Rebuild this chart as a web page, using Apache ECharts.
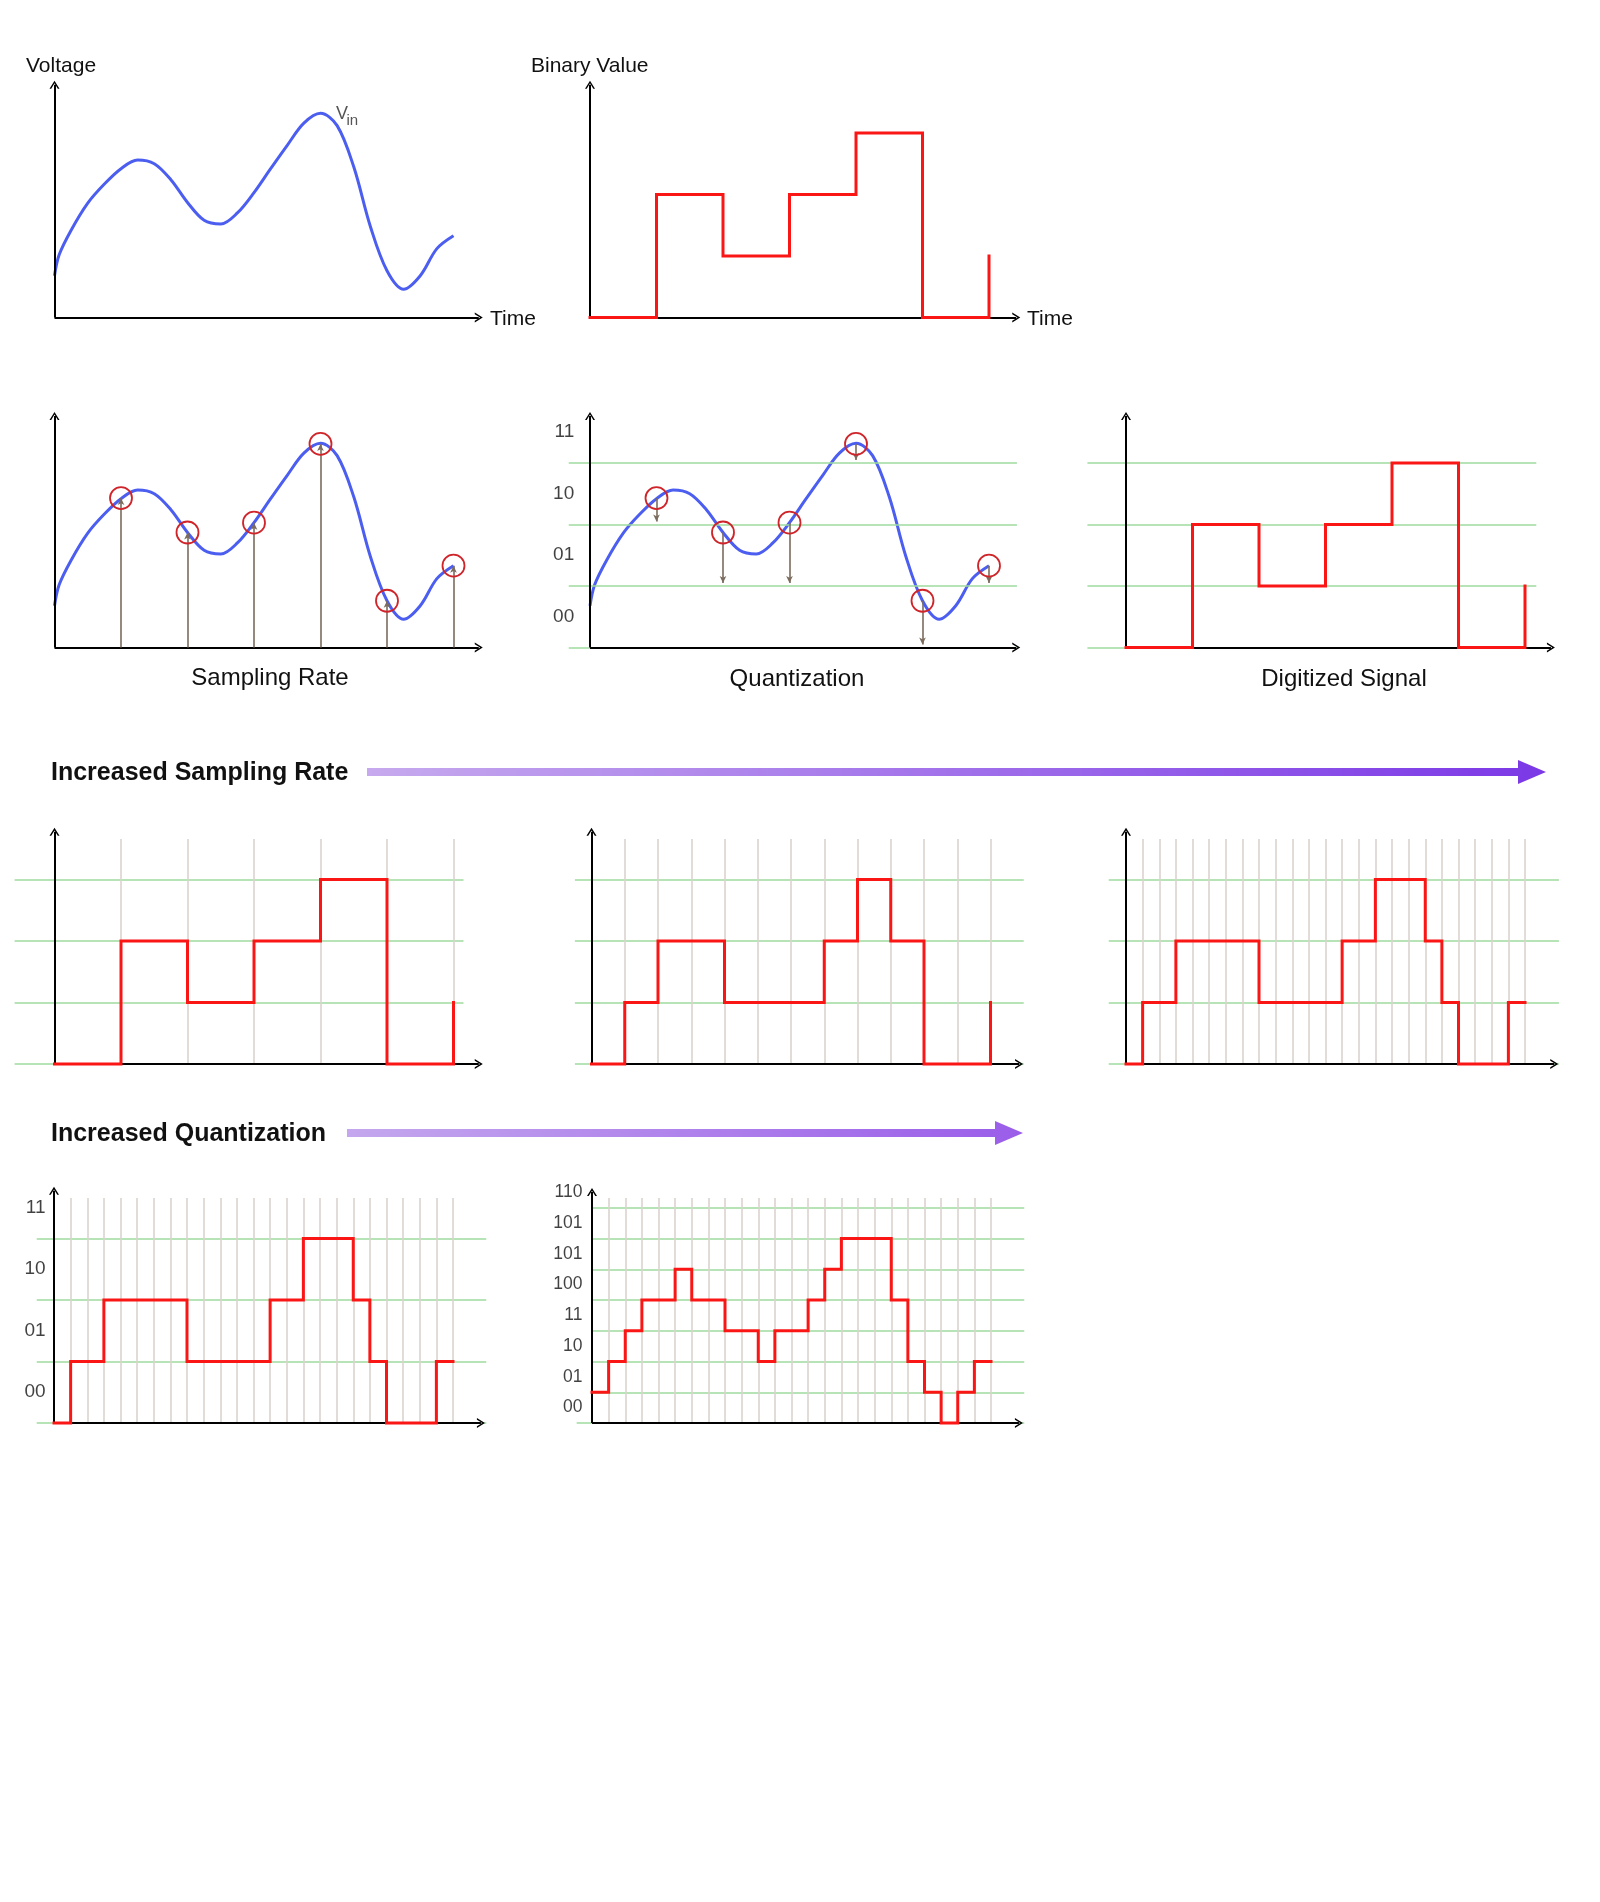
<!DOCTYPE html>
<html><head><meta charset="utf-8">
<script src="https://cdn.jsdelivr.net/npm/echarts@6/dist/echarts.min.js"></script>
<style>html,body{margin:0;padding:0;background:#fff}#c{width:1600px;height:1902px}</style>
</head><body><div id="c"></div>
<script>
// ---------------- data ----------------
// analog input signal V_in (time in sample periods, voltage in quantization steps)
const curveT = [0, 0.07, 0.25, 0.5, 0.75, 1.0, 1.25, 1.5, 1.75, 2.0, 2.25, 2.5, 2.75, 3.0, 3.25, 3.5, 3.75, 4.0, 4.25, 4.5, 4.75, 5.0, 5.25, 5.5, 5.75, 6.0];
const curveV = [0.68, 1.02, 1.42, 1.86, 2.17, 2.42, 2.56, 2.50, 2.24, 1.87, 1.58, 1.52, 1.70, 2.03, 2.42, 2.80, 3.16, 3.32, 3.12, 2.45, 1.48, 0.76, 0.46, 0.68, 1.12, 1.33];
// samples
const sampleT = [1, 2, 3, 4, 5, 6];
const sampleV = [2.43, 1.87, 2.03, 3.31, 0.76, 1.33];
const quantLevel = [2, 1, 1, 3, 0, 1];
// digitized signal, one value per sample period (t = 0..6)
const digitLevel = [0, 2, 1, 2, 3, 0, 1];
// increased sampling rate: 2x (t = 0..6 step 0.5), 4x (t = 0..6 step 0.25)
const rate2xLevel = [0, 1, 2, 2, 1, 1, 1, 2, 3, 2, 0, 0, 1];
const rate4xLevel = [0, 1, 1, 2, 2, 2, 2, 2, 1, 1, 1, 1, 1, 2, 2, 3, 3, 3, 2, 1, 0, 0, 0, 1, 1];
// increased quantization: 2-bit and 3-bit at 4x rate
const quant2bitLevel = [0, 1, 1, 2, 2, 2, 2, 2, 1, 1, 1, 1, 1, 2, 2, 3, 3, 3, 2, 1, 0, 0, 0, 1, 1];
const quant3bitLevel = [1, 2, 3, 4, 4, 5, 4, 4, 3, 3, 2, 3, 3, 4, 5, 6, 6, 6, 4, 2, 1, 0, 1, 2, 2];
// tick labels
const labels2bit = ['00', '01', '10', '11'];
const labels3bit = ['00', '01', '10', '11', '100', '101', '101', '110'];
const levels2bit = [0, 1, 2, 3];
const levels3bit = [0, 1, 2, 3, 4, 5, 6, 7];

// ---------------- styles / layout ----------------
const BLUE = '#4b5ef0', RED = '#fb1616', CIRC = '#cf2429', GREEN = '#9edb9e', GREY = '#dad4ce', STEM = '#7b6c5e';
const FONT = '"Liberation Sans", Arial, Helvetica, sans-serif';
const CHEV = 'path://M0,10 L5,0 L10,10 L8.3,10 L5,3.3 L1.7,10 Z';
const UX = 66.5, UY = 61.5;

const P = {
  A: {ox: 54.5, oy: 317.5, uy: UY, xEnd: 6.44, yEnd: 3.85},
  B: {ox: 590, oy: 317.5, uy: UY, xEnd: 6.47, yEnd: 3.85},
  C: {ox: 54.5, oy: 647.5, uy: UY, xEnd: 6.44, yEnd: 3.83},
  D: {ox: 590, oy: 647.5, uy: UY, xEnd: 6.47, yEnd: 3.83, gx0: -0.32, gx1: 6.42, labX: -0.23},
  E: {ox: 1126, oy: 647.5, uy: UY, xEnd: 6.45, yEnd: 3.83, gx0: -0.58, gx1: 6.17},
  F: {ox: 54.5, oy: 1064, uy: UY, xEnd: 6.44, yEnd: 3.84, gx0: -0.6, gx1: 6.15, vTop: 3.66},
  G: {ox: 591.5, oy: 1064, uy: UY, xEnd: 6.49, yEnd: 3.84, gx0: -0.25, gx1: 6.5, vTop: 3.66},
  H: {ox: 1126, oy: 1064, uy: UY, xEnd: 6.5, yEnd: 3.84, gx0: -0.26, gx1: 6.51, vTop: 3.66},
  I: {ox: 54, oy: 1423, uy: UY, xEnd: 6.48, yEnd: 3.84, gx0: -0.26, gx1: 6.5, vTop: 3.66, labX: -0.12},
  J: {ox: 592, oy: 1423, uy: UY / 2, xEnd: 6.48, yEnd: 7.64, gx0: 0, gx0b: -0.23, gx1: 6.5, vTop: 7.32, labX: -0.135}
};

const grids = [], xAxes = [], yAxes = [], series = [];

function addPanel(p) {
  const i = grids.length;
  const x0 = Math.min(0, p.gx0 ?? 0, p.gx0b ?? 0, p.labX ?? 0) - 0.08;
  const x1 = Math.max(p.xEnd, p.gx1 ?? 0) + 0.08;
  const y0 = -10 / p.uy, y1 = p.yEnd + 6 / p.uy;
  grids.push({left: p.ox + x0 * UX, top: p.oy - y1 * p.uy, width: (x1 - x0) * UX, height: (y1 - y0) * p.uy});
  xAxes.push({gridIndex: i, type: 'value', min: x0, max: x1, show: false, splitLine: {show: false}});
  yAxes.push({gridIndex: i, type: 'value', min: y0, max: y1, show: false, splitLine: {show: false}});
  p.idx = i;
  return i;
}

function lineSegs(p, segs, color, width, z, sym, symSize) {
  series.push({
    type: 'line', xAxisIndex: p.idx, yAxisIndex: p.idx, data: [[0, 0]], symbol: 'none', silent: true, z: z,
    lineStyle: {width: 0},
    markLine: {
      silent: true, symbol: sym || ['none', 'none'], symbolSize: symSize || 8,
      label: {show: false}, emphasis: {disabled: true},
      lineStyle: {color: color, width: width, type: 'solid', opacity: 1},
      data: segs.map(s => [{coord: [s[0], s[1]]}, {coord: [s[2], s[3]]}])
    }
  });
}

function axes(p) {
  lineSegs(p, [[0, 0, p.xEnd - 4 / UX, 0], [0, 0, 0, p.yEnd - 4 / p.uy]], '#000', 2, 6, ['none', CHEV], [10, 8]);
}

function greenLines(p, levels) {
  lineSegs(p, levels.map(l => [l === 0 && p.gx0b != null ? p.gx0b : p.gx0, l, p.gx1, l]), GREEN, 1.6, 1);
}

function greyLines(p, step) {
  const segs = [];
  const n = Math.round(6 / step);
  for (let k = 1; k <= n; k++) segs.push([k * step, 0, k * step, p.vTop]);
  lineSegs(p, segs, GREY, 1.6, 1);
}

function curve(p) {
  series.push({
    type: 'line', xAxisIndex: p.idx, yAxisIndex: p.idx, silent: true, z: 4,
    data: curveT.map((t, k) => [t, curveV[k]]), smooth: 0.34, symbol: 'none',
    lineStyle: {color: BLUE, width: 3, join: 'round'}
  });
}

function steps(p, values, step) {
  series.push({
    type: 'line', xAxisIndex: p.idx, yAxisIndex: p.idx, silent: true, z: 8, step: 'end',
    data: values.map((v, k) => [k * step, v]), symbol: 'none',
    lineStyle: {color: RED, width: 3, join: 'miter', cap: 'square'}
  });
}

function circles(p) {
  series.push({
    type: 'scatter', xAxisIndex: p.idx, yAxisIndex: p.idx, silent: true, z: 9,
    data: sampleT.map((t, k) => [t, sampleV[k]]), symbol: 'circle', symbolSize: 22,
    itemStyle: {color: 'rgba(0,0,0,0)', borderColor: CIRC, borderWidth: 1.8, opacity: 1}
  });
}

function yLabels(p, ys, texts, size) {
  series.push({
    type: 'scatter', xAxisIndex: p.idx, yAxisIndex: p.idx, silent: true, z: 9,
    symbol: 'circle', symbolSize: 1, itemStyle: {color: 'rgba(0,0,0,0)'},
    data: ys.map((y, k) => ({value: [p.labX, y + 0.5], name: texts[k]})),
    label: {show: true, position: 'left', distance: 0, formatter: q => q.name, fontSize: size, color: '#111', fontFamily: FONT}
  });
}

// ---- Row 1 ----
addPanel(P.A); axes(P.A); curve(P.A);
addPanel(P.B); axes(P.B); steps(P.B, digitLevel, 1);
// ---- Row 2 ----
addPanel(P.C); axes(P.C);
lineSegs(P.C, sampleT.map((t, k) => [t, 0, t, sampleV[k]]), STEM, 1.6, 2, ['none', 'arrow'], [5, 7]);
curve(P.C); circles(P.C);
addPanel(P.D); greenLines(P.D, levels2bit); axes(P.D); curve(P.D);
lineSegs(P.D, sampleT.map((t, k) => [t, sampleV[k], t, quantLevel[k] + 3 / UY]), STEM, 1.6, 5, ['none', 'arrow'], [5, 7]);
circles(P.D); yLabels(P.D, levels2bit, labels2bit, 19);
addPanel(P.E); greenLines(P.E, levels2bit); axes(P.E); steps(P.E, digitLevel, 1);
// ---- Row 3 ----
addPanel(P.F); greenLines(P.F, levels2bit); greyLines(P.F, 1); axes(P.F); steps(P.F, digitLevel, 1);
addPanel(P.G); greenLines(P.G, levels2bit); greyLines(P.G, 0.5); axes(P.G); steps(P.G, rate2xLevel, 0.5);
addPanel(P.H); greenLines(P.H, levels2bit); greyLines(P.H, 0.25); axes(P.H); steps(P.H, rate4xLevel, 0.25);
// ---- Row 4 ----
addPanel(P.I); greenLines(P.I, levels2bit); greyLines(P.I, 0.25); axes(P.I); steps(P.I, quant2bitLevel, 0.25);
yLabels(P.I, levels2bit, labels2bit, 19);
addPanel(P.J); greenLines(P.J, levels3bit); greyLines(P.J, 0.25); axes(P.J); steps(P.J, quant3bitLevel, 0.25);
yLabels(P.J, levels3bit, labels3bit, 17.5);

// ---------------- text & decorative arrows ----------------
function txt(x, y, s, size, opts) {
  opts = opts || {};
  return {
    type: 'text', x: x, y: y, silent: true, z: 20,
    style: {
      text: s, fill: opts.color || '#111', font: (opts.bold ? 'bold ' : '') + size + 'px ' + FONT,
      align: opts.align || 'left', verticalAlign: 'middle', textAlign: opts.align || 'left', textVerticalAlign: 'middle'
    }
  };
}
function gradArrow(x0, x1, y, c0, c1) {
  const xh = x1 - 28;
  return {
    type: 'polygon', silent: true, z: 20,
    shape: {points: [[x0, y - 4], [xh, y - 4], [xh, y - 12], [x1, y], [xh, y + 12], [xh, y + 4], [x0, y + 4]]},
    style: {fill: new echarts.graphic.LinearGradient(0, 0, 1, 0, [{offset: 0, color: c0}, {offset: 1, color: c1}])}
  };
}

const graphics = [
  txt(26, 66, 'Voltage', 21),
  txt(490, 319, 'Time', 21),
  txt(531, 66, 'Binary Value', 21),
  txt(1027, 319, 'Time', 21),
  txt(336, 114, 'V', 18, {color: '#555'}),
  txt(346.5, 121, 'in', 15, {color: '#555'}),
  txt(270, 678, 'Sampling Rate', 24, {align: 'center'}),
  txt(797, 679, 'Quantization', 24, {align: 'center'}),
  txt(1344, 679, 'Digitized Signal', 24, {align: 'center'}),
  txt(51, 773, 'Increased Sampling Rate', 25, {bold: true}),
  txt(51, 1134, 'Increased Quantization', 25, {bold: true}),
  gradArrow(367, 1546, 772, '#c6a9ee', '#7b38e6'),
  gradArrow(347, 1023, 1133, '#c4a7ee', '#9a5de9')
];

const chart = echarts.init(document.getElementById('c'), null, {renderer: 'canvas'});
chart.setOption({
  backgroundColor: '#ffffff',
  animation: false,
  grid: grids, xAxis: xAxes, yAxis: yAxes, series: series,
  graphic: graphics
});
</script></body></html>
